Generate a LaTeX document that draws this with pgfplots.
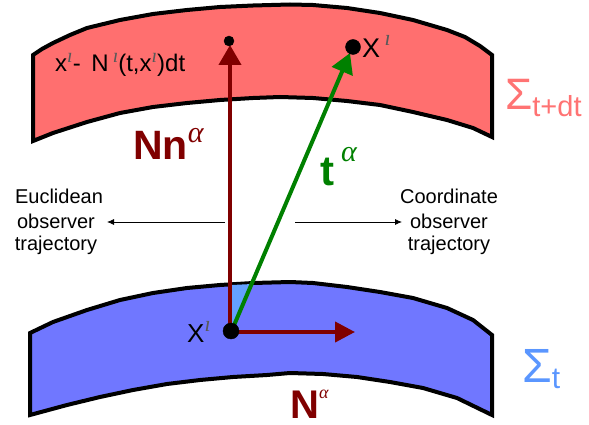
\documentclass[border=0pt]{standalone}
\usepackage{pgfplots}
\pgfplotsset{compat=1.18}
\usepackage{fontspec}
\setmainfont{Liberation Sans}
\newfontfamily\ser{Liberation Serif}
\usetikzlibrary{arrows.meta}
\definecolor{slabred}{RGB}{255,111,111}
\definecolor{slabblue}{RGB}{112,119,255}
\definecolor{lightblue}{RGB}{100,160,255}
\definecolor{darkred}{RGB}{128,0,0}
\definecolor{arrgreen}{RGB}{0,128,0}
\definecolor{sigred}{RGB}{255,115,115}
\definecolor{sigblue}{RGB}{90,150,255}
\newcommand{\fs}[1]{\fontsize{#1}{#1}\selectfont}
\newcommand{\supi}[2]{\raisebox{#2}{\fs{#1}\ser\itshape\color{black!65}ı}}
\newcommand{\alp}[2]{\raisebox{#2}{\fs{#1}\mdseries\ser\itshape α}}
\begin{document}
\begin{tikzpicture}
\begin{axis}[at={(0,0)},anchor=south west,scale only axis,width=589pt,height=425pt,
  xmin=0,xmax=589,ymin=0,ymax=425,y dir=reverse,hide axis,clip=false]
% upper slab
\addplot[fill=slabred,draw=black,line width=4pt,line join=miter] coordinates {
(33,55)(42,49)(53,43)(70,35)(87,28)(120,20)(153,14)(187,10)(220,7)(253,5.5)(290,4.5)(313,5)(347,8)(380,13)(413,20)(447,30)(465,37)(480,46)(492,55)
(492,137)(473,128)(447,120)(413,112)(380,105)(347,101)(313,98)(280,97)(253,98)(220,100)(187,103)(153,107)(120,113)(87,122)(53,133)(33,141)} -- cycle;
% lower slab
\addplot[fill=slabblue,draw=black,line width=4pt,line join=miter] coordinates {
(30,333)(53,322)(87,310)(120,300)(153,293)(187,288)(220,285)(253,283)(290,282)(313,283)(347,287)(380,292)(413,298)(447,308)(473,320)(492,335)
(492,415)(457,398)(423,388)(390,382)(357,377)(323,374)(290,373)(267,375)(233,377)(200,380)(167,384)(133,390)(100,397)(67,405)(30,415)} -- cycle;
% light triangle between arrows
\addplot[fill=lightblue,draw=none] coordinates {(232,285)(252,284)(232,328)} -- cycle;
% observer arrows
\addplot[black,line width=0.8pt,-{Latex[length=7pt,width=6pt]}] coordinates {(225,222)(107,222)};
\addplot[black,line width=0.8pt,-{Latex[length=7pt,width=6pt]}] coordinates {(295,222)(402,222)};
% vectors
\addplot[darkred,line width=4pt,-{Triangle[length=20pt,width=22pt]}] coordinates {(230,332)(230,45)};
\addplot[darkred,line width=4pt,-{Triangle[length=20pt,width=20pt]}] coordinates {(230,332)(355,332)};
\addplot[arrgreen,line width=4pt,-{Triangle[length=20pt,width=22pt]}] coordinates {(232,330)(350,53)};
% dots
\addplot[only marks,mark=*,mark size=5pt,black] coordinates {(229,41)};
\addplot[only marks,mark=*,mark size=7.5pt,black] coordinates {(353,47)};
\addplot[only marks,mark=*,mark size=8pt,black] coordinates {(231,331)};
% labels
\node[anchor=base west,inner sep=0] at (axis cs:55,72) {\fs{24}x\supi{20}{9pt}- \,N\,\supi{20}{9pt}(t,x\supi{20}{9pt})dt};
\node[anchor=base west,inner sep=0] at (axis cs:362,58) {\fs{27}X\,\supi{22}{12pt}};
\node[anchor=base west,inner sep=0] at (axis cs:187,342) {\fs{26}X\supi{22}{11pt}};
\node[anchor=base west,inner sep=0,text=darkred] at (axis cs:133,160) {\fs{41}\bfseries Nn\alp{30}{17pt}};
\node[anchor=base west,inner sep=0,text=arrgreen] at (axis cs:320,185) {\fs{42}\bfseries t\,\alp{30}{24pt}};
\node[anchor=base west,inner sep=0,text=darkred] at (axis cs:290,418) {\fs{40}\bfseries N\alp{18}{20pt}};
\node[anchor=base west,inner sep=0,text=sigred] at (axis cs:505,110) {\fs{44}Σ\raisebox{-7pt}{\fs{29}t+dt}};
\node[anchor=base west,inner sep=0,text=sigblue] at (axis cs:522,382) {\fs{48}Σ\raisebox{-6pt}{\fs{30}t}};
\node[anchor=base,inner sep=0] at (axis cs:59,203) {\fs{20}Euclidean};
\node[anchor=base,inner sep=0] at (axis cs:56,228) {\fs{20}observer};
\node[anchor=base,inner sep=0] at (axis cs:56,250) {\fs{20}trajectory};
\node[anchor=base,inner sep=0] at (axis cs:449,203) {\fs{20}Coordinate};
\node[anchor=base,inner sep=0] at (axis cs:449,228) {\fs{20}observer};
\node[anchor=base,inner sep=0] at (axis cs:449,250) {\fs{20}trajectory};
\end{axis}
\pgfresetboundingbox
\useasboundingbox (0,0) rectangle (589pt,425pt);
\end{tikzpicture}
\end{document}
